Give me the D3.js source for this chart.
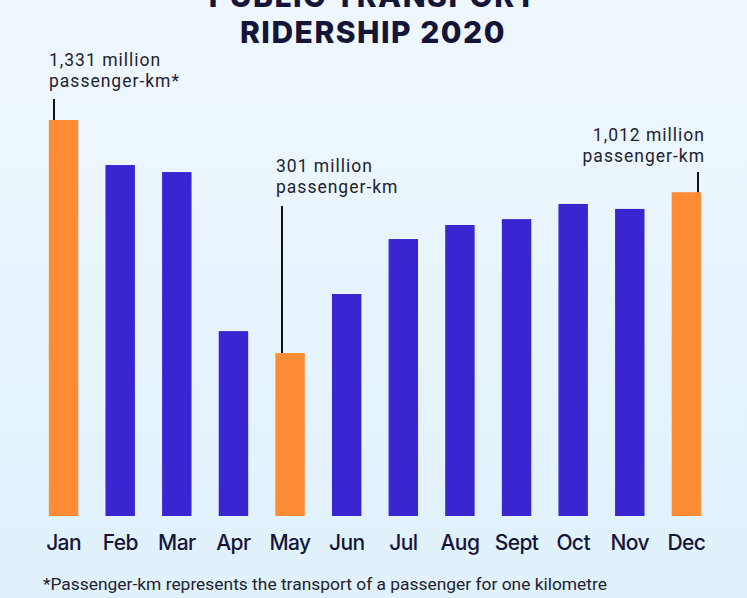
<!DOCTYPE html>
<html>
<head>
<meta charset="utf-8">
<script src="https://cdn.jsdelivr.net/npm/d3@7"></script>
<style>
  body { margin: 0; background: #e8f4fc; }
  svg { display: block; }
</style>
</head>
<body>
<script>
// monthly ridership, million passenger-km
var months = ["Jan", "Feb", "Mar", "Apr", "May", "Jun", "Jul", "Aug", "Sept", "Oct", "Nov", "Dec"];
var ridership = [1331, 1132, 1101, 398, 301, 562, 805, 867, 893, 960, 938, 1012];
var highlighted = ["Jan", "May", "Dec"];
var notes = [
  { month: "Jan", lines: ["1,331 million", "passenger-km*"] },
  { month: "May", lines: ["301 million", "passenger-km"] },
  { month: "Dec", lines: ["1,012 million", "passenger-km"] }
];
var titleLines = ["PUBLIC TRANSPORT", "RIDERSHIP 2020"];
var footnote = "*Passenger-km represents the transport of a passenger for one kilometre";

var w = 747, h = 598;
var navy = "#15153a";

var svg = d3.select("body").append("svg")
  .attr("width", w)
  .attr("height", h);

var grad = svg.append("defs").append("linearGradient")
  .attr("id", "bg").attr("x1", 0).attr("y1", 0).attr("x2", 0).attr("y2", 1);
grad.append("stop").attr("offset", "0%").attr("stop-color", "#eff7fd");
grad.append("stop").attr("offset", "100%").attr("stop-color", "#e0f1fb");

svg.append("rect")
  .attr("width", w).attr("height", h)
  .attr("fill", "url(#bg)");

var x = d3.scaleBand()
  .domain(months)
  .range([33, 717])
  .paddingInner(0.48)
  .paddingOuter(0.28);

// the bars don't start at zero in the original, baseline sits lower
var y = d3.scaleLinear()
  .domain([-419, 1331])
  .range([516, 120]);

// title (first line runs off the top edge, as in the original)
svg.append("g").selectAll("text")
  .data(titleLines)
  .enter()
  .append("text")
  .attr("x", 373)
  .attr("y", function(d, i) { return 7 + i * 36; })
  .attr("text-anchor", "middle")
  .attr("font-family", "Inter, sans-serif")
  .attr("font-weight", 800)
  .attr("font-size", 30)
  .attr("letter-spacing", 1.5)
  .attr("fill", navy)
  .text(function(d) { return d; });

// bars
svg.append("g").selectAll("rect")
  .data(ridership)
  .enter()
  .append("rect")
  .attr("x", function(d, i) { return x(months[i]); })
  .attr("y", function(d) { return y(d); })
  .attr("width", x.bandwidth())
  .attr("height", function(d) { return y.range()[0] - y(d); })
  .attr("fill", function(d, i) {
    return highlighted.indexOf(months[i]) >= 0 ? "#fe8c37" : "#3a26d0";
  });

// month labels
svg.append("g").selectAll("text")
  .data(months)
  .enter()
  .append("text")
  .attr("x", function(d) { return x(d) + x.bandwidth() / 2; })
  .attr("y", 550)
  .attr("text-anchor", "middle")
  .attr("font-family", "Inter, sans-serif")
  .attr("font-weight", 500)
  .attr("font-size", 21)
  .attr("letter-spacing", -0.6)
  .attr("fill", navy)
  .text(function(d) { return d; });

// annotations with leader lines
var noteLayout = {
  Jan: { tx: 49, ty: 66, anchor: "start", lx: 54, top: 99 },
  May: { tx: 276, ty: 172, anchor: "start", lx: 282, top: 206 },
  Dec: { tx: 705, ty: 141, anchor: "end", lx: 698, top: 172 }
};

notes.forEach(function(n) {
  var L = noteLayout[n.month];
  var v = ridership[months.indexOf(n.month)];
  svg.append("line")
    .attr("x1", L.lx).attr("x2", L.lx)
    .attr("y1", L.top).attr("y2", y(v))
    .attr("stroke", "#111")
    .attr("stroke-width", 2);
  svg.append("g").selectAll("text")
    .data(n.lines)
    .enter()
    .append("text")
    .attr("x", L.tx)
    .attr("y", function(d, i) { return L.ty + i * 20.5; })
    .attr("text-anchor", L.anchor)
    .attr("font-family", "Roboto, sans-serif")
    .attr("font-size", 17.5)
    .attr("letter-spacing", 1)
    .attr("fill", "#222230")
    .text(function(d) { return d; });
});

svg.append("text")
  .attr("x", 43)
  .attr("y", 590)
  .attr("font-family", "Roboto, sans-serif")
  .attr("font-size", 17.4)
  .attr("fill", "#222230")
  .text(footnote);
</script>
</body>
</html>
